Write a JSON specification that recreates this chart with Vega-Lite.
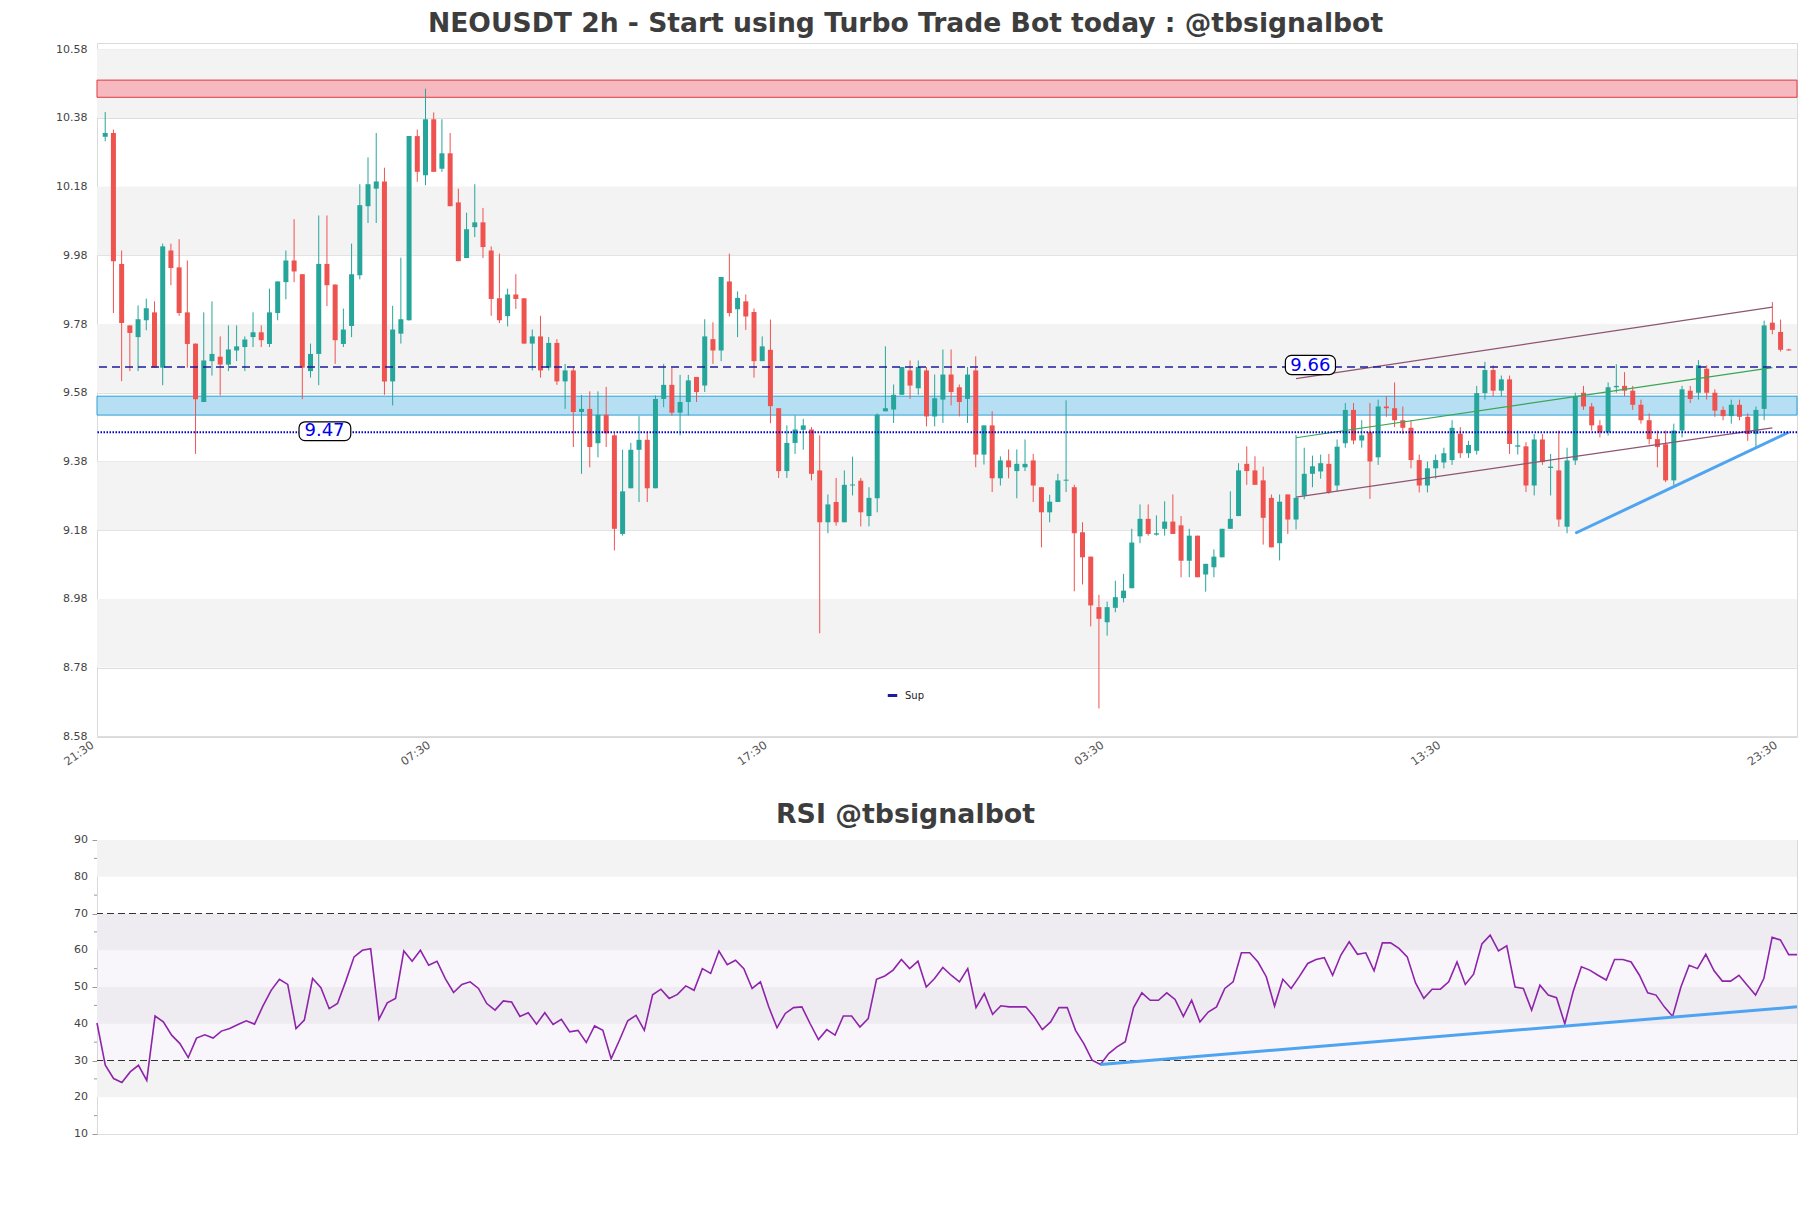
{
 "$schema": "https://vega.github.io/schema/vega-lite/v6.json",
 "background": "white",
 "padding": {"left": 55, "top": 10, "right": 14, "bottom": 10},
 "config": {
  "font": "DejaVu Sans",
  "view": {"stroke": "#d9d9d9", "strokeWidth": 1},
  "axis": {"labelFont": "DejaVu Sans", "labelFontSize": 11, "labelColor": "#444444", "domain": false, "ticks": false, "gridColor": "#dedede", "gridWidth": 1, "labelOverlap": false}
 },
 "datasets": {
  "candles": [
{"i":0,"o":10.325,"h":10.397,"l":10.312,"c":10.336},
{"i":1,"o":10.336,"h":10.346,"l":9.812,"c":9.963},
{"i":2,"o":9.955,"h":9.994,"l":9.614,"c":9.783},
{"i":3,"o":9.776,"h":9.776,"l":9.643,"c":9.754},
{"i":4,"o":9.742,"h":9.834,"l":9.643,"c":9.794},
{"i":5,"o":9.791,"h":9.854,"l":9.762,"c":9.826},
{"i":6,"o":9.814,"h":9.846,"l":9.653,"c":9.653},
{"i":7,"o":9.653,"h":10.014,"l":9.602,"c":10.006},
{"i":8,"o":9.994,"h":10.014,"l":9.893,"c":9.943},
{"i":9,"o":9.945,"h":10.027,"l":9.804,"c":9.812},
{"i":10,"o":9.814,"h":9.965,"l":9.653,"c":9.722},
{"i":11,"o":9.723,"h":9.723,"l":9.402,"c":9.561},
{"i":12,"o":9.553,"h":9.814,"l":9.553,"c":9.674},
{"i":13,"o":9.672,"h":9.846,"l":9.630,"c":9.693},
{"i":14,"o":9.685,"h":9.744,"l":9.572,"c":9.662},
{"i":15,"o":9.662,"h":9.776,"l":9.643,"c":9.706},
{"i":16,"o":9.703,"h":9.776,"l":9.672,"c":9.715},
{"i":17,"o":9.713,"h":9.744,"l":9.643,"c":9.735},
{"i":18,"o":9.742,"h":9.814,"l":9.713,"c":9.756},
{"i":19,"o":9.756,"h":9.776,"l":9.713,"c":9.733},
{"i":20,"o":9.722,"h":9.883,"l":9.713,"c":9.814},
{"i":21,"o":9.812,"h":9.904,"l":9.791,"c":9.904},
{"i":22,"o":9.902,"h":9.994,"l":9.852,"c":9.965},
{"i":23,"o":9.965,"h":10.085,"l":9.902,"c":9.933},
{"i":24,"o":9.925,"h":9.925,"l":9.561,"c":9.653},
{"i":25,"o":9.643,"h":9.723,"l":9.624,"c":9.693},
{"i":26,"o":9.693,"h":10.096,"l":9.602,"c":9.955},
{"i":27,"o":9.955,"h":10.096,"l":9.832,"c":9.893},
{"i":28,"o":9.895,"h":9.895,"l":9.664,"c":9.733},
{"i":29,"o":9.722,"h":9.825,"l":9.713,"c":9.764},
{"i":30,"o":9.774,"h":10.014,"l":9.742,"c":9.925},
{"i":31,"o":9.922,"h":10.187,"l":9.91,"c":10.126},
{"i":32,"o":10.123,"h":10.265,"l":10.074,"c":10.187},
{"i":33,"o":10.174,"h":10.336,"l":10.074,"c":10.195},
{"i":34,"o":10.195,"h":10.235,"l":9.574,"c":9.613},
{"i":35,"o":9.613,"h":9.833,"l":9.543,"c":9.764},
{"i":36,"o":9.752,"h":9.973,"l":9.723,"c":9.794},
{"i":37,"o":9.791,"h":10.327,"l":9.79,"c":10.327},
{"i":38,"o":10.327,"h":10.346,"l":10.194,"c":10.223},
{"i":39,"o":10.213,"h":10.465,"l":10.184,"c":10.376},
{"i":40,"o":10.376,"h":10.396,"l":10.223,"c":10.223},
{"i":41,"o":10.232,"h":10.376,"l":10.223,"c":10.277},
{"i":42,"o":10.277,"h":10.336,"l":10.123,"c":10.123},
{"i":43,"o":10.134,"h":10.174,"l":9.963,"c":9.963},
{"i":44,"o":9.972,"h":10.104,"l":9.972,"c":10.056},
{"i":45,"o":10.062,"h":10.187,"l":10.033,"c":10.076},
{"i":46,"o":10.076,"h":10.118,"l":9.972,"c":10.004},
{"i":47,"o":9.994,"h":10.006,"l":9.804,"c":9.853},
{"i":48,"o":9.855,"h":9.985,"l":9.783,"c":9.791},
{"i":49,"o":9.803,"h":9.883,"l":9.773,"c":9.866},
{"i":50,"o":9.866,"h":9.925,"l":9.824,"c":9.853},
{"i":51,"o":9.855,"h":9.855,"l":9.723,"c":9.723},
{"i":52,"o":9.723,"h":9.764,"l":9.645,"c":9.744},
{"i":53,"o":9.744,"h":9.804,"l":9.624,"c":9.645},
{"i":54,"o":9.653,"h":9.742,"l":9.645,"c":9.725},
{"i":55,"o":9.725,"h":9.736,"l":9.603,"c":9.613},
{"i":56,"o":9.613,"h":9.664,"l":9.533,"c":9.645},
{"i":57,"o":9.645,"h":9.655,"l":9.422,"c":9.524},
{"i":58,"o":9.524,"h":9.574,"l":9.344,"c":9.533},
{"i":59,"o":9.533,"h":9.584,"l":9.363,"c":9.422},
{"i":60,"o":9.433,"h":9.584,"l":9.392,"c":9.516},
{"i":61,"o":9.516,"h":9.597,"l":9.422,"c":9.462},
{"i":62,"o":9.456,"h":9.462,"l":9.121,"c":9.184},
{"i":63,"o":9.169,"h":9.414,"l":9.164,"c":9.293},
{"i":64,"o":9.302,"h":9.434,"l":9.302,"c":9.414},
{"i":65,"o":9.414,"h":9.512,"l":9.262,"c":9.443},
{"i":66,"o":9.443,"h":9.465,"l":9.262,"c":9.302},
{"i":67,"o":9.302,"h":9.572,"l":9.302,"c":9.562},
{"i":68,"o":9.562,"h":9.664,"l":9.538,"c":9.603},
{"i":69,"o":9.603,"h":9.652,"l":9.514,"c":9.522},
{"i":70,"o":9.522,"h":9.632,"l":9.456,"c":9.553},
{"i":71,"o":9.553,"h":9.632,"l":9.514,"c":9.616},
{"i":72,"o":9.626,"h":9.626,"l":9.553,"c":9.582},
{"i":73,"o":9.601,"h":9.794,"l":9.582,"c":9.744},
{"i":74,"o":9.736,"h":9.785,"l":9.664,"c":9.703},
{"i":75,"o":9.703,"h":9.917,"l":9.672,"c":9.917},
{"i":76,"o":9.904,"h":9.985,"l":9.802,"c":9.812},
{"i":77,"o":9.823,"h":9.875,"l":9.742,"c":9.856},
{"i":78,"o":9.846,"h":9.866,"l":9.763,"c":9.802},
{"i":79,"o":9.815,"h":9.825,"l":9.624,"c":9.672},
{"i":80,"o":9.672,"h":9.744,"l":9.672,"c":9.715},
{"i":81,"o":9.705,"h":9.793,"l":9.491,"c":9.541},
{"i":82,"o":9.535,"h":9.535,"l":9.332,"c":9.352},
{"i":83,"o":9.352,"h":9.485,"l":9.332,"c":9.434},
{"i":84,"o":9.434,"h":9.514,"l":9.402,"c":9.473},
{"i":85,"o":9.472,"h":9.504,"l":9.414,"c":9.485},
{"i":86,"o":9.473,"h":9.480,"l":9.325,"c":9.344},
{"i":87,"o":9.354,"h":9.456,"l":8.880,"c":9.203},
{"i":88,"o":9.203,"h":9.284,"l":9.171,"c":9.255},
{"i":89,"o":9.262,"h":9.332,"l":9.193,"c":9.203},
{"i":90,"o":9.203,"h":9.354,"l":9.203,"c":9.312},
{"i":91,"o":9.310,"h":9.394,"l":9.281,"c":9.313},
{"i":92,"o":9.324,"h":9.332,"l":9.191,"c":9.232},
{"i":93,"o":9.221,"h":9.305,"l":9.191,"c":9.274},
{"i":94,"o":9.273,"h":9.52,"l":9.232,"c":9.516},
{"i":95,"o":9.526,"h":9.715,"l":9.526,"c":9.535},
{"i":96,"o":9.531,"h":9.604,"l":9.492,"c":9.574},
{"i":97,"o":9.574,"h":9.655,"l":9.574,"c":9.655},
{"i":98,"o":9.645,"h":9.674,"l":9.562,"c":9.601},
{"i":99,"o":9.593,"h":9.674,"l":9.574,"c":9.655},
{"i":100,"o":9.645,"h":9.655,"l":9.482,"c":9.511},
{"i":101,"o":9.511,"h":9.633,"l":9.482,"c":9.564},
{"i":102,"o":9.560,"h":9.706,"l":9.492,"c":9.633},
{"i":103,"o":9.633,"h":9.706,"l":9.543,"c":9.582},
{"i":104,"o":9.596,"h":9.604,"l":9.511,"c":9.553},
{"i":105,"o":9.562,"h":9.655,"l":9.492,"c":9.633},
{"i":106,"o":9.645,"h":9.686,"l":9.363,"c":9.400},
{"i":107,"o":9.400,"h":9.485,"l":9.371,"c":9.485},
{"i":108,"o":9.485,"h":9.526,"l":9.291,"c":9.331},
{"i":109,"o":9.331,"h":9.395,"l":9.310,"c":9.383},
{"i":110,"o":9.383,"h":9.415,"l":9.331,"c":9.363},
{"i":111,"o":9.352,"h":9.415,"l":9.273,"c":9.373},
{"i":112,"o":9.363,"h":9.444,"l":9.352,"c":9.373},
{"i":113,"o":9.383,"h":9.402,"l":9.262,"c":9.310},
{"i":114,"o":9.305,"h":9.305,"l":9.130,"c":9.232},
{"i":115,"o":9.232,"h":9.283,"l":9.203,"c":9.263},
{"i":116,"o":9.262,"h":9.344,"l":9.262,"c":9.325},
{"i":117,"o":9.324,"h":9.558,"l":9.291,"c":9.327},
{"i":118,"o":9.305,"h":9.312,"l":9.002,"c":9.171},
{"i":119,"o":9.174,"h":9.203,"l":9.022,"c":9.101},
{"i":120,"o":9.103,"h":9.103,"l":8.900,"c":8.961},
{"i":121,"o":8.956,"h":8.992,"l":8.661,"c":8.922},
{"i":122,"o":8.912,"h":8.972,"l":8.873,"c":8.956},
{"i":123,"o":8.954,"h":9.033,"l":8.941,"c":8.985},
{"i":124,"o":8.982,"h":9.053,"l":8.970,"c":9.004},
{"i":125,"o":9.011,"h":9.184,"l":9.011,"c":9.144},
{"i":126,"o":9.162,"h":9.255,"l":9.142,"c":9.213},
{"i":127,"o":9.213,"h":9.255,"l":9.164,"c":9.169},
{"i":128,"o":9.167,"h":9.223,"l":9.164,"c":9.171},
{"i":129,"o":9.184,"h":9.264,"l":9.164,"c":9.205},
{"i":130,"o":9.205,"h":9.284,"l":9.169,"c":9.169},
{"i":131,"o":9.194,"h":9.221,"l":9.043,"c":9.091},
{"i":132,"o":9.091,"h":9.184,"l":9.043,"c":9.164},
{"i":133,"o":9.164,"h":9.164,"l":9.043,"c":9.043},
{"i":134,"o":9.051,"h":9.082,"l":9.001,"c":9.082},
{"i":135,"o":9.072,"h":9.124,"l":9.043,"c":9.103},
{"i":136,"o":9.101,"h":9.184,"l":9.101,"c":9.184},
{"i":137,"o":9.184,"h":9.293,"l":9.184,"c":9.213},
{"i":138,"o":9.221,"h":9.375,"l":9.221,"c":9.354},
{"i":139,"o":9.373,"h":9.424,"l":9.312,"c":9.352},
{"i":140,"o":9.354,"h":9.395,"l":9.312,"c":9.312},
{"i":141,"o":9.325,"h":9.365,"l":9.138,"c":9.216},
{"i":142,"o":9.274,"h":9.284,"l":9.130,"c":9.130},
{"i":143,"o":9.142,"h":9.284,"l":9.092,"c":9.263},
{"i":144,"o":9.284,"h":9.284,"l":9.169,"c":9.211},
{"i":145,"o":9.211,"h":9.457,"l":9.182,"c":9.274},
{"i":146,"o":9.281,"h":9.42,"l":9.27,"c":9.344},
{"i":147,"o":9.344,"h":9.397,"l":9.305,"c":9.366},
{"i":148,"o":9.351,"h":9.40,"l":9.33,"c":9.375},
{"i":149,"o":9.373,"h":9.402,"l":9.286,"c":9.291},
{"i":150,"o":9.310,"h":9.444,"l":9.293,"c":9.423},
{"i":151,"o":9.433,"h":9.55,"l":9.42,"c":9.53},
{"i":152,"o":9.53,"h":9.55,"l":9.43,"c":9.441},
{"i":153,"o":9.441,"h":9.50,"l":9.42,"c":9.456},
{"i":154,"o":9.465,"h":9.55,"l":9.271,"c":9.380},
{"i":155,"o":9.392,"h":9.56,"l":9.37,"c":9.54},
{"i":156,"o":9.54,"h":9.57,"l":9.51,"c":9.535},
{"i":157,"o":9.535,"h":9.61,"l":9.48,"c":9.50},
{"i":158,"o":9.50,"h":9.54,"l":9.46,"c":9.478},
{"i":159,"o":9.478,"h":9.50,"l":9.36,"c":9.384},
{"i":160,"o":9.384,"h":9.40,"l":9.29,"c":9.310},
{"i":161,"o":9.310,"h":9.38,"l":9.29,"c":9.360},
{"i":162,"o":9.360,"h":9.40,"l":9.33,"c":9.384},
{"i":163,"o":9.377,"h":9.42,"l":9.36,"c":9.404},
{"i":164,"o":9.384,"h":9.50,"l":9.37,"c":9.478},
{"i":165,"o":9.461,"h":9.48,"l":9.39,"c":9.404},
{"i":166,"o":9.404,"h":9.44,"l":9.39,"c":9.428},
{"i":167,"o":9.411,"h":9.60,"l":9.40,"c":9.579},
{"i":168,"o":9.579,"h":9.67,"l":9.56,"c":9.646},
{"i":169,"o":9.646,"h":9.66,"l":9.57,"c":9.586},
{"i":170,"o":9.586,"h":9.63,"l":9.57,"c":9.619},
{"i":171,"o":9.619,"h":9.63,"l":9.402,"c":9.431},
{"i":172,"o":9.423,"h":9.47,"l":9.40,"c":9.427},
{"i":173,"o":9.424,"h":9.436,"l":9.291,"c":9.310},
{"i":174,"o":9.310,"h":9.46,"l":9.281,"c":9.444},
{"i":175,"o":9.444,"h":9.46,"l":9.37,"c":9.378},
{"i":176,"o":9.361,"h":9.402,"l":9.281,"c":9.365},
{"i":177,"o":9.354,"h":9.47,"l":9.19,"c":9.211},
{"i":178,"o":9.19,"h":9.42,"l":9.171,"c":9.383},
{"i":179,"o":9.383,"h":9.58,"l":9.37,"c":9.57},
{"i":180,"o":9.58,"h":9.60,"l":9.53,"c":9.54},
{"i":181,"o":9.54,"h":9.55,"l":9.47,"c":9.485},
{"i":182,"o":9.485,"h":9.50,"l":9.45,"c":9.465},
{"i":183,"o":9.465,"h":9.61,"l":9.455,"c":9.596},
{"i":184,"o":9.596,"h":9.663,"l":9.58,"c":9.60},
{"i":185,"o":9.60,"h":9.64,"l":9.57,"c":9.586},
{"i":186,"o":9.586,"h":9.60,"l":9.53,"c":9.545},
{"i":187,"o":9.545,"h":9.56,"l":9.49,"c":9.50},
{"i":188,"o":9.50,"h":9.52,"l":9.43,"c":9.445},
{"i":189,"o":9.445,"h":9.47,"l":9.363,"c":9.422},
{"i":190,"o":9.43,"h":9.47,"l":9.32,"c":9.325},
{"i":191,"o":9.325,"h":9.49,"l":9.31,"c":9.47},
{"i":192,"o":9.47,"h":9.60,"l":9.45,"c":9.59},
{"i":193,"o":9.586,"h":9.60,"l":9.55,"c":9.562},
{"i":194,"o":9.58,"h":9.675,"l":9.56,"c":9.66},
{"i":195,"o":9.65,"h":9.66,"l":9.56,"c":9.58},
{"i":196,"o":9.58,"h":9.59,"l":9.51,"c":9.528},
{"i":197,"o":9.53,"h":9.54,"l":9.50,"c":9.512},
{"i":198,"o":9.512,"h":9.56,"l":9.49,"c":9.545},
{"i":199,"o":9.545,"h":9.56,"l":9.50,"c":9.51},
{"i":200,"o":9.51,"h":9.52,"l":9.44,"c":9.46},
{"i":201,"o":9.46,"h":9.54,"l":9.417,"c":9.53},
{"i":202,"o":9.533,"h":9.79,"l":9.50,"c":9.776},
{"i":203,"o":9.784,"h":9.844,"l":9.75,"c":9.763},
{"i":204,"o":9.757,"h":9.793,"l":9.70,"c":9.705},
{"i":205,"o":9.706,"h":9.708,"l":9.703,"c":9.703}
  ],
  "rsi": [
{"i":0,"v":40.2},{"i":1,"v":28.7},{"i":2,"v":25.1},{"i":3,"v":24.0},{"i":4,"v":26.9},{"i":5,"v":28.7},{"i":6,"v":24.6},{"i":7,"v":42.1},{"i":8,"v":40.5},{"i":9,"v":36.9},
{"i":10,"v":34.6},{"i":11,"v":30.8},{"i":12,"v":36.1},{"i":13,"v":37.0},{"i":14,"v":36.1},{"i":15,"v":38.0},{"i":16,"v":38.7},{"i":17,"v":39.8},{"i":18,"v":40.8},{"i":19,"v":39.9},
{"i":20,"v":44.8},{"i":21,"v":49.1},{"i":22,"v":52.1},{"i":23,"v":50.7},{"i":24,"v":38.7},{"i":25,"v":41.0},{"i":26,"v":52.3},{"i":27,"v":49.8},{"i":28,"v":44.1},{"i":29,"v":45.5},
{"i":30,"v":51.6},{"i":31,"v":58.2},{"i":32,"v":60.0},{"i":33,"v":60.4},{"i":34,"v":41.2},{"i":35,"v":45.7},{"i":36,"v":46.9},{"i":37,"v":59.8},{"i":38,"v":57.0},{"i":39,"v":60.0},
{"i":40,"v":55.9},{"i":41,"v":57.0},{"i":42,"v":52.3},{"i":43,"v":48.5},{"i":44,"v":50.7},{"i":45,"v":51.4},{"i":46,"v":49.6},{"i":47,"v":45.5},{"i":48,"v":43.7},{"i":49,"v":46.2},
{"i":50,"v":45.9},{"i":51,"v":42.0},{"i":52,"v":43.0},{"i":53,"v":39.9},{"i":54,"v":43.0},{"i":55,"v":39.8},{"i":56,"v":41.2},{"i":57,"v":37.8},{"i":58,"v":38.2},{"i":59,"v":34.9},
{"i":60,"v":39.4},{"i":61,"v":38.2},{"i":62,"v":30.5},{"i":63,"v":35.5},{"i":64,"v":40.8},{"i":65,"v":42.3},{"i":66,"v":38.2},{"i":67,"v":47.9},{"i":68,"v":49.4},{"i":69,"v":46.9},
{"i":70,"v":48.0},{"i":71,"v":50.3},{"i":72,"v":49.1},{"i":73,"v":55.0},{"i":74,"v":53.7},{"i":75,"v":59.8},{"i":76,"v":56.1},{"i":77,"v":57.3},{"i":78,"v":55.0},{"i":79,"v":49.6},
{"i":80,"v":51.4},{"i":81,"v":44.6},{"i":82,"v":38.9},{"i":83,"v":42.8},{"i":84,"v":44.4},{"i":85,"v":44.6},{"i":86,"v":40.0},{"i":87,"v":35.7},{"i":88,"v":38.4},{"i":89,"v":36.9},
{"i":90,"v":42.1},{"i":91,"v":42.1},{"i":92,"v":39.1},{"i":93,"v":41.4},{"i":94,"v":52.1},{"i":95,"v":53.0},{"i":96,"v":54.6},{"i":97,"v":57.5},{"i":98,"v":55.0},{"i":99,"v":57.0},
{"i":100,"v":50.0},{"i":101,"v":52.3},{"i":102,"v":55.3},{"i":103,"v":53.2},{"i":104,"v":51.4},{"i":105,"v":55.0},{"i":106,"v":44.4},{"i":107,"v":48.2},{"i":108,"v":42.6},{"i":109,"v":44.9},
{"i":110,"v":44.6},{"i":111,"v":44.6},{"i":112,"v":44.6},{"i":113,"v":41.9},{"i":114,"v":38.4},{"i":115,"v":40.5},{"i":116,"v":44.4},{"i":117,"v":44.4},{"i":118,"v":38.2},{"i":119,"v":34.6},
{"i":120,"v":30.1},{"i":121,"v":28.9},{"i":122,"v":31.9},{"i":123,"v":33.7},{"i":124,"v":35.1},{"i":125,"v":44.4},{"i":126,"v":48.4},{"i":127,"v":46.4},{"i":128,"v":46.4},{"i":129,"v":48.4},
{"i":130,"v":46.6},{"i":131,"v":42.0},{"i":132,"v":46.4},{"i":133,"v":40.5},{"i":134,"v":43.2},{"i":135,"v":44.6},{"i":136,"v":49.6},{"i":137,"v":51.4},{"i":138,"v":59.3},{"i":139,"v":59.3},
{"i":140,"v":56.8},{"i":141,"v":52.8},{"i":142,"v":44.8},{"i":143,"v":52.1},{"i":144,"v":49.6},{"i":145,"v":52.9},{"i":146,"v":56.4},{"i":147,"v":57.5},{"i":148,"v":58.0},{"i":149,"v":53.2},
{"i":150,"v":58.7},{"i":151,"v":62.3},{"i":152,"v":58.9},{"i":153,"v":59.3},{"i":154,"v":54.4},{"i":155,"v":62.0},{"i":156,"v":62.0},{"i":157,"v":60.5},{"i":158,"v":58.2},{"i":159,"v":51.1},
{"i":160,"v":46.9},{"i":161,"v":49.4},{"i":162,"v":49.4},{"i":163,"v":51.4},{"i":164,"v":56.8},{"i":165,"v":50.7},{"i":166,"v":53.5},{"i":167,"v":61.7},{"i":168,"v":64.1},{"i":169,"v":59.8},
{"i":170,"v":61.2},{"i":171,"v":50.0},{"i":172,"v":49.6},{"i":173,"v":43.7},{"i":174,"v":50.5},{"i":175,"v":47.8},{"i":176,"v":47.1},{"i":177,"v":40.0},{"i":178,"v":48.7},{"i":179,"v":55.5},
{"i":180,"v":54.6},{"i":181,"v":53.2},{"i":182,"v":51.9},{"i":183,"v":57.5},{"i":184,"v":57.5},{"i":185,"v":56.8},{"i":186,"v":53.2},{"i":187,"v":48.4},{"i":188,"v":47.8},{"i":189,"v":44.6},
{"i":190,"v":42.0},{"i":191,"v":50.0},{"i":192,"v":55.9},{"i":193,"v":55.0},{"i":194,"v":58.9},{"i":195,"v":54.4},{"i":196,"v":51.6},{"i":197,"v":51.6},{"i":198,"v":53.2},{"i":199,"v":50.5},
{"i":200,"v":47.8},{"i":201,"v":52.3},{"i":202,"v":63.5},{"i":203,"v":62.8},{"i":204,"v":58.8},{"i":205,"v":58.8}
  ],
  "bandsMain": [{"a":10.38,"b":10.58},{"a":9.98,"b":10.18},{"a":9.58,"b":9.78},{"a":9.18,"b":9.38},{"a":8.78,"b":8.98}],
  "bandsRsi": [{"a":80,"b":90},{"a":60,"b":70},{"a":40,"b":50},{"a":20,"b":30}],
  "rsiTicks": [{"v":10},{"v":20},{"v":30},{"v":40},{"v":50},{"v":60},{"v":70},{"v":80},{"v":90}],
  "rsiMinor": [{"v":15},{"v":25},{"v":35},{"v":45},{"v":55},{"v":65},{"v":75},{"v":85}],
  "trend": [
   {"id":"up","i":145,"v":9.621},{"id":"up","i":203,"v":9.829},
   {"id":"lo","i":145,"v":9.276},{"id":"lo","i":203,"v":9.478},
   {"id":"mid","i":145,"v":9.449},{"id":"mid","i":203,"v":9.653},
   {"id":"sup","i":179,"v":9.171},{"id":"sup","i":205,"v":9.465}
  ],
  "levels": [
   {"t":"9.47","v":9.468,"x":23.6,"x2":29.9,"y":9.4405,"y2":9.4955,"tx":26.7},
   {"t":"9.66","v":9.659,"x":143.7,"x2":149.8,"y":9.633,"y2":9.689,"tx":146.75}
  ]
 },
 "spacing": 103,
 "bounds": "flush",
 "vconcat": [
  {
   "width": 1700,
   "height": 694,
   "title": {"text": "NEOUSDT 2h - Start using Turbo Trade Bot today : @tbsignalbot", "font": "DejaVu Sans", "fontSize": 26.6, "fontWeight": "bold", "color": "#3d3d3d", "anchor": "middle", "baseline": "alphabetic", "offset": -16, "dx": -41.5},
   "layer": [
    {
     "data": {"name": "bandsMain"},
     "mark": {"type": "rect", "color": "#f3f3f3"},
     "encoding": {
      "x": {"datum": -1, "type": "quantitative", "scale": {"domain": [-1, 206], "nice": false, "zero": false, "padding": 0},
            "axis": {"values": [-1, 40, 81, 122, 163, 204], "labelExpr": "datum.value == -1 ? '21:30' : datum.value == 40 ? '07:30' : datum.value == 81 ? '17:30' : datum.value == 122 ? '03:30' : datum.value == 163 ? '13:30' : '23:30'", "labelAngle": -35, "labelAlign": "right", "labelBaseline": "top", "labelPadding": 2, "labelOffset": -8, "labelFontSize": 11.5, "labelColor": "#555555", "labelOverlap": false, "labelBound": false, "labelFlush": false, "grid": false, "title": null}},
      "x2": {"datum": 206},
      "y": {"field": "a", "type": "quantitative", "scale": {"domain": [8.578, 10.598], "nice": false, "zero": false, "padding": 0},
            "axis": {"values": [8.58, 8.78, 8.98, 9.18, 9.38, 9.58, 9.78, 9.98, 10.18, 10.38, 10.58], "format": ".2f", "grid": true, "labelPadding": 10, "labelOverlap": false, "title": null}},
      "y2": {"field": "b"}
     }
    },
    {
     "data": {"values": [{}]},
     "mark": {"type": "rect", "fill": "#f5b9bf", "stroke": "#e0393e", "strokeWidth": 1},
     "encoding": {"x": {"datum": -1, "type": "quantitative"}, "x2": {"datum": 206}, "y": {"datum": 10.44, "type": "quantitative"}, "y2": {"datum": 10.49}}
    },
    {
     "data": {"values": [{}]},
     "mark": {"type": "rect", "fill": "#b7dff3", "stroke": "#2a9fd6", "strokeWidth": 1},
     "encoding": {"x": {"datum": -1, "type": "quantitative"}, "x2": {"datum": 206}, "y": {"datum": 9.515, "type": "quantitative"}, "y2": {"datum": 9.57}}
    },
    {
     "data": {"name": "candles"},
     "mark": {"type": "rule", "strokeWidth": 1},
     "encoding": {
      "x": {"field": "i", "type": "quantitative"},
      "y": {"field": "l", "type": "quantitative"},
      "y2": {"field": "h"},
      "color": {"condition": {"test": "datum.c >= datum.o", "value": "#26a69a"}, "value": "#ef5350"}
     }
    },
    {
     "data": {"name": "candles"},
     "mark": {"type": "bar", "size": 5},
     "encoding": {
      "x": {"field": "i", "type": "quantitative"},
      "y": {"field": "o", "type": "quantitative"},
      "y2": {"field": "c"},
      "color": {"condition": {"test": "datum.c >= datum.o", "value": "#26a69a"}, "value": "#ef5350"}
     }
    },
    {
     "data": {"name": "trend"},
     "transform": [{"filter": "datum.id == 'up' || datum.id == 'lo'"}],
     "mark": {"type": "line", "color": "#8e5470", "strokeWidth": 1.2},
     "encoding": {"x": {"field": "i", "type": "quantitative"}, "y": {"field": "v", "type": "quantitative"}, "detail": {"field": "id"}}
    },
    {
     "data": {"name": "trend"},
     "transform": [{"filter": "datum.id == 'mid'"}],
     "mark": {"type": "line", "color": "#3aa655", "strokeWidth": 1.2},
     "encoding": {"x": {"field": "i", "type": "quantitative"}, "y": {"field": "v", "type": "quantitative"}}
    },
    {
     "data": {"name": "trend"},
     "transform": [{"filter": "datum.id == 'sup'"}],
     "mark": {"type": "line", "color": "#4ea4f0", "strokeWidth": 3},
     "encoding": {"x": {"field": "i", "type": "quantitative"}, "y": {"field": "v", "type": "quantitative"}}
    },
    {
     "data": {"values": [{}]},
     "mark": {"type": "rule", "strokeWidth": 1.3, "strokeDash": [8, 5]},
     "encoding": {
      "y": {"datum": 9.655, "type": "quantitative"},
      "color": {"datum": "Sup", "type": "nominal", "scale": {"range": ["#1c1c9c"]},
                "legend": {"orient": "none", "legendX": 789, "legendY": 646, "title": null, "symbolType": "stroke", "symbolStrokeWidth": 3, "symbolSize": 90, "symbolDash": [100, 0], "labelFontSize": 10, "labelFont": "DejaVu Sans", "labelColor": "#222222", "labelOffset": 6}}
     }
    },
    {
     "data": {"values": [{}]},
     "mark": {"type": "rule", "color": "#0000cd", "strokeWidth": 2.2, "strokeDash": [1.5, 1.5]},
     "encoding": {"y": {"datum": 9.465, "type": "quantitative"}}
    },
    {
     "data": {"name": "levels"},
     "mark": {"type": "rect", "fill": "white", "stroke": "black", "strokeWidth": 1.2, "cornerRadius": 6},
     "encoding": {"x": {"field": "x", "type": "quantitative"}, "x2": {"field": "x2"}, "y": {"field": "y", "type": "quantitative"}, "y2": {"field": "y2"}}
    },
    {
     "data": {"name": "levels"},
     "mark": {"type": "text", "color": "#0000ee", "fontSize": 18, "font": "DejaVu Sans", "align": "center", "baseline": "middle"},
     "encoding": {"x": {"field": "tx", "type": "quantitative"}, "y": {"field": "v", "type": "quantitative"}, "text": {"field": "t"}}
    }
   ]
  },
  {
   "width": 1700,
   "height": 294,
   "title": {"text": "RSI @tbsignalbot", "font": "DejaVu Sans", "fontSize": 26.8, "fontWeight": "bold", "color": "#3d3d3d", "anchor": "middle", "baseline": "alphabetic", "offset": -16, "dx": -41.5},
   "layer": [
    {
     "data": {"name": "bandsRsi"},
     "mark": {"type": "rect", "color": "#f3f3f3"},
     "encoding": {
      "x": {"datum": 0, "type": "quantitative", "scale": {"domain": [0, 205], "nice": false, "zero": false, "padding": 0}, "axis": null},
      "x2": {"datum": 205},
      "y": {"field": "a", "type": "quantitative", "scale": {"domain": [10, 90], "nice": false, "zero": false, "padding": 0},
            "axis": {"values": [10,20,30,40,50,60,70,80,90], "labels": false, "ticks": true, "tickSize": 5, "tickColor": "#999999", "grid": true, "title": null}},
      "y2": {"field": "b"}
     }
    },
    {
     "data": {"values": [{}]},
     "mark": {"type": "rect", "fill": "#e2d0ea", "opacity": 0.2},
     "encoding": {"x": {"datum": 0, "type": "quantitative"}, "x2": {"datum": 205}, "y": {"datum": 30, "type": "quantitative"}, "y2": {"datum": 70}}
    },
    {
     "data": {"values": [{"v": 30}, {"v": 70}]},
     "mark": {"type": "rule", "color": "#333333", "strokeWidth": 1.2, "strokeDash": [7, 4]},
     "encoding": {"y": {"field": "v", "type": "quantitative"}}
    },
    {
     "data": {"name": "rsi"},
     "mark": {"type": "line", "color": "#8e24aa", "strokeWidth": 1.6},
     "encoding": {"x": {"field": "i", "type": "quantitative"}, "y": {"field": "v", "type": "quantitative"}}
    },
    {
     "data": {"values": [{"i": 121, "v": 28.9}, {"i": 205, "v": 44.6}]},
     "mark": {"type": "line", "color": "#4ea4f0", "strokeWidth": 3},
     "encoding": {"x": {"field": "i", "type": "quantitative"}, "y": {"field": "v", "type": "quantitative"}}
    },
    {
     "data": {"name": "rsiTicks"},
     "mark": {"type": "text", "align": "right", "baseline": "middle", "dx": -9, "fontSize": 11, "font": "DejaVu Sans", "color": "#444444"},
     "encoding": {"x": {"datum": 0, "type": "quantitative"}, "y": {"field": "v", "type": "quantitative"}, "text": {"field": "v", "type": "quantitative", "format": "d"}}
    },
    {
     "data": {"name": "rsiMinor"},
     "mark": {"type": "tick", "orient": "horizontal", "size": 3, "thickness": 1, "xOffset": -1.5, "color": "#999999", "opacity": 1},
     "encoding": {"x": {"datum": 0, "type": "quantitative"}, "y": {"field": "v", "type": "quantitative"}}
    }
   ]
  }
 ]
}
